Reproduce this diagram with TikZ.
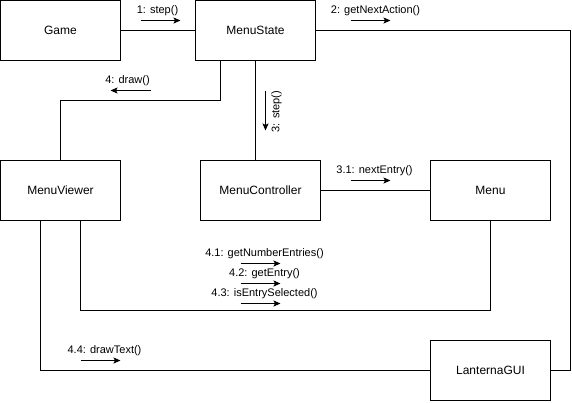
\documentclass[tikz,border=0pt]{standalone}
\usepackage{fontspec}
\setmainfont{Liberation Sans}
\usetikzlibrary{arrows.meta}
\begin{document}
\begin{tikzpicture}[x=1pt,y=-1pt,
  obj/.style={draw,line width=1pt,minimum width=120pt,minimum height=60pt,inner sep=0pt,font=\fontsize{12}{14}\selectfont},
  link/.style={line width=1pt},
  msg/.style={line width=1pt,-{Stealth[length=7pt,width=6pt,inset=1.5pt]}},
  lbl/.style={inner sep=0pt,font=\fontsize{11}{13}\selectfont}]
\useasboundingbox (0,0) rectangle (572,402);
\begin{scope}[shift={(0.5,0.5)}]
% objects
\node[obj] (game) at (60,30) {Game};
\node[obj] (ms) at (255,30) {MenuState};
\node[obj] (mv) at (60,190) {MenuViewer};
\node[obj] (mc) at (260,190) {MenuController};
\node[obj] (menu) at (490,190) {Menu};
\node[obj] (gui) at (490,370) {LanternaGUI};
% turning points
\coordinate (c1) at (570,30);
\coordinate (t1) at (60,100);
\coordinate (t2) at (490,310);
% links
\draw[link] (game) -- (ms);
\draw[link] (ms.east) -- (c1) |- (gui.east);
\draw[link] ([xshift=-35pt]ms.south) |- (t1) -- (mv.north);
\draw[link] (ms.south) -- (ms.south |- mc.north);
\draw[link] (mc) -- (menu);
\draw[link] ([xshift=20pt]mv.south) |- (t2) -- (menu.south);
\draw[link] ([xshift=-20pt]mv.south) |- (gui.west);
% message arrows
\coordinate (a1s) at (140,20); \coordinate (a1e) at (180,20);
\coordinate (a2s) at (350,20); \coordinate (a2e) at (390,20);
\coordinate (a4s) at (150,90); \coordinate (a4e) at (110,90);
\coordinate (a3s) at (265,90); \coordinate (a3e) at (265,130);
\coordinate (a31s) at (350,180); \coordinate (a31e) at (390,180);
\coordinate (a41s) at (240,263); \coordinate (a41e) at (280,263);
\coordinate (a42s) at (240,283); \coordinate (a42e) at (280,283);
\coordinate (a43s) at (240,303); \coordinate (a43e) at (280,303);
\coordinate (a44s) at (80,360); \coordinate (a44e) at (120,360);
\draw[msg] (a1s) -- (a1e);
\draw[msg] (a2s) -- (a2e);
\draw[msg] (a4s) -- (a4e);
\draw[msg] (a3s) -- (a3e);
\draw[msg] (a31s) -- (a31e);
\draw[msg] (a41s) -- (a41e);
\draw[msg] (a42s) -- (a42e);
\draw[msg] (a43s) -- (a43e);
\draw[msg] (a44s) -- (a44e);
% labels
\node[lbl] (l1) at (157,10) {1: step()};
\node[lbl] (l2) at (375,10) {2: getNextAction()};
\node[lbl] (l4) at (127,80) {4: draw()};
\node[lbl,rotate=90] (l3) at (276,111) {3: step()};
\node[lbl] (l31) at (374,170) {3.1: nextEntry()};
\node[lbl] (l41) at (264,253) {4.1: getNumberEntries()};
\node[lbl] (l42) at (264,273) {4.2: getEntry()};
\node[lbl] (l43) at (264,293) {4.3: isEntrySelected()};
\node[lbl] (l44) at (104,350) {4.4: drawText()};
\end{scope}
\end{tikzpicture}
\end{document}
